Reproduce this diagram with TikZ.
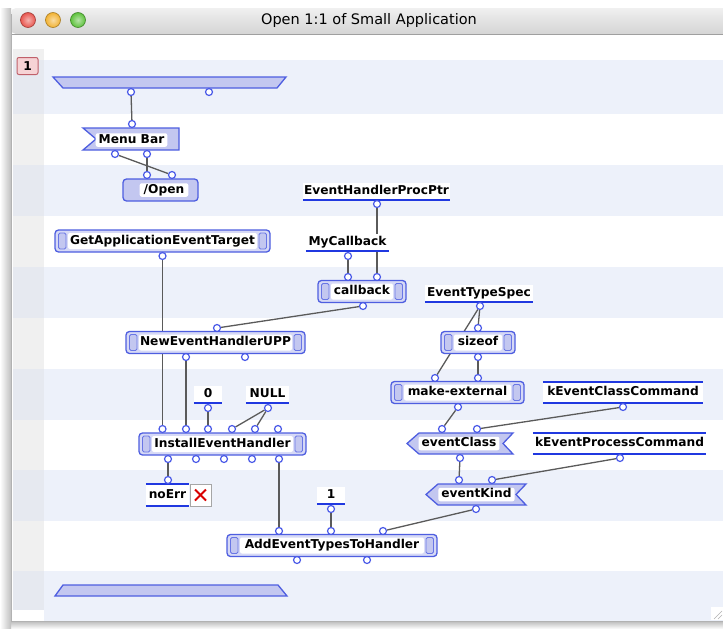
\documentclass[tikz,border=0pt]{standalone}
\usepackage{fontspec}
\setmainfont{DejaVu Sans}
\usetikzlibrary{calc}
\pgfdeclarelayer{bgl}
\pgfdeclarelayer{wirel}
\pgfsetlayers{bgl,wirel,main}
\definecolor{band}{HTML}{EDF1FA}
\definecolor{gutter}{HTML}{F0F0F0}
\definecolor{gutterband}{HTML}{E6E9F0}
\definecolor{fnblue}{HTML}{4E5EE0}
\definecolor{fnfill}{HTML}{D6D9F6}
\definecolor{panel}{HTML}{C3C7F0}
\definecolor{cblue}{HTML}{2038E0}
\definecolor{wire}{HTML}{5A5A5A}
\definecolor{portblue}{HTML}{4A5AE8}
\definecolor{pinkfill}{HTML}{F6D3D5}
\definecolor{pinkdraw}{HTML}{C0606A}
\definecolor{tlred}{HTML}{E8554E}
\definecolor{tlyel}{HTML}{F2B233}
\definecolor{tlgrn}{HTML}{5DC23C}
\newcommand{\prt}[3]{\node[port] (#1) at (#2,#3) {};}
\newcommand{\cnst}[5]{\node[cst, anchor=south, minimum width=#4] (#1) at (#2,#3) {#5};
  \draw[cline] (#1.south west) -- (#1.south east);}
\newcommand{\cnstb}[5]{\node[cst, minimum height=21pt, minimum width=#4] (#1) at (#2,#3) {#5};
  \draw[cline] (#1.south west) -- (#1.south east);
  \draw[cline] (#1.north west) -- (#1.north east);}
\begin{document}
\begin{tikzpicture}[x=1pt,y=-1pt,
  lbl/.style={font=\fontsize{12.2}{14}\bfseries\selectfont},
  funcbox/.style={draw=fnblue, line width=1.3pt, fill=fnfill, rounded corners=3.5pt,
    minimum height=22pt, inner sep=0pt, lbl, text height=9pt, text depth=2.5pt,
    path picture={
      \fill[white, rounded corners=2pt] ([shift={(13pt,-3pt)}]path picture bounding box.north west) rectangle ([shift={(-13pt,3pt)}]path picture bounding box.south east);
      \draw[fill=panel, draw=fnblue!85, line width=0.9pt, rounded corners=1.5pt] ([shift={(3.5pt,-3pt)}]path picture bounding box.north west) rectangle ([shift={(11pt,3pt)}]path picture bounding box.south west);
      \draw[fill=panel, draw=fnblue!85, line width=0.9pt, rounded corners=1.5pt] ([shift={(-3.5pt,-3pt)}]path picture bounding box.north east) rectangle ([shift={(-11pt,3pt)}]path picture bounding box.south east);
    }},
  flag/.style={draw=fnblue, fill=panel, line width=1.3pt, line join=miter},
  flabel/.style={fill=white, rounded corners=2pt, lbl, inner xsep=3pt, inner ysep=1pt, text height=9pt, text depth=2.5pt},
  trap/.style={draw=fnblue, fill=panel, line width=1.3pt},
  cst/.style={fill=white, lbl, inner xsep=0pt, inner ysep=0pt, text height=9.5pt, text depth=3pt, minimum height=17pt},
  cline/.style={draw=cblue, line width=2pt},
  port/.style={circle, draw=portblue, fill=white, line width=1.2pt, inner sep=0pt, minimum size=7pt},
  wirestyle/.style={draw=wire, line width=1.3pt},
  light/.style={circle, minimum size=15pt, inner sep=0pt, line width=0.6pt}
]
\useasboundingbox (0,0) rectangle (723,629);
\begin{pgfonlayer}{bgl}
  \fill[white] (0,0) rectangle (723,629);
  % shadows
  \shade[top color=gray!60, bottom color=white] (0,620) rectangle (723,629);
  \shade[left color=white, right color=gray!50] (0,8) rectangle (11,629);
  % content
  \fill[white] (11,34) rectangle (723,621);
  % bands
  \foreach \a/\b in {60/114,165/216,267/318,369/420,470/521,571/621}{
    \fill[band] (44,\a) rectangle (723,\b);
  }
  % gutter
  \fill[gutter] (13,49) rectangle (44,610);
  \foreach \a/\b in {60/114,165/216,267/318,369/420,470/521,571/610}{
    \fill[gutterband] (13,\a) rectangle (44,\b);
  }
  % title bar
  \shade[top color=gray!12, bottom color=gray!33, rounded corners=5pt] (11,8) rectangle (730,34);
  \draw[gray!75, line width=0.8pt] (11,34) -- (723,34);
  \draw[gray!60, line width=0.8pt] (11,14) -- (11,621) -- (723,621);
  % resize grip
  \fill[white] (711,607) rectangle (723,620);
  \draw[gray!60] (714,619) -- (722,611) (718,619) -- (722,615);
\end{pgfonlayer}

% title and window buttons
\node[light, shading=radial, inner color=tlred!45!white, outer color=tlred, draw=tlred!70!black] (closeb) at (28,20) {};
\node[light, shading=radial, inner color=tlyel!45!white, outer color=tlyel, draw=tlyel!70!black] (minb) at (53,20) {};
\node[light, shading=radial, inner color=tlgrn!45!white, outer color=tlgrn, draw=tlgrn!70!black] (zoomb) at (78,20) {};
\node[font=\fontsize{14.5}{16}\selectfont] (title) at (369,20.5) {Open 1:1 of Small Application};

% row label
\node[draw=pinkdraw, fill=pinkfill, rounded corners=2pt, line width=1pt, minimum width=21pt, minimum height=17pt, inner sep=0pt, lbl] (row1) at (27.5,66) {1};

% trapezoids
\draw[trap] (53,77) -- (286,77) -- (277,88) -- (63,88) -- cycle;
\draw[trap] (63,585) -- (278,585) -- (287,596) -- (55,596) -- cycle;

% Menu Bar flag
\draw[flag] (83,128) -- (179,128) -- (179,150) -- (83,150) -- (96,139) -- cycle;
\node[flabel] (menubar) at (131.5,140) {Menu Bar};

% /Open
\node[draw=fnblue, line width=1.3pt, fill=panel, rounded corners=3.5pt, minimum width=75pt, minimum height=22pt, inner sep=0pt] (openbox) at (160.5,190) {};
\node[flabel, inner xsep=4pt] (open) at (164,190) {/Open};

% function boxes
\node[funcbox, minimum width=215pt] (gaet) at (162.5,241) {GetApplicationEventTarget};
\node[funcbox, minimum width=88pt] (callback) at (362,291.5) {callback};
\node[funcbox, minimum width=179pt] (nehupp) at (215.5,342.5) {NewEventHandlerUPP};
\node[funcbox, minimum width=74pt] (sizeof) at (478,342.5) {sizeof};
\node[funcbox, minimum width=133pt] (makeext) at (457.5,392.5) {make-external};
\node[funcbox, minimum width=167pt] (ieh) at (222.5,444) {InstallEventHandler};
\node[funcbox, minimum width=210pt] (aeth) at (332,545.5) {AddEventTypesToHandler};

% eventClass / eventKind flags
\draw[flag] (407,443.5) -- (419,433) -- (513,433) -- (503,443.5) -- (513,454) -- (419,454) -- cycle;
\node[flabel] (eventclass) at (459,443.5) {eventClass};
\draw[flag] (426,494.5) -- (438,484) -- (526,484) -- (516,494.5) -- (526,505) -- (438,505) -- cycle;
\node[flabel] (eventkind) at (476.5,494.5) {eventKind};

% constants
\cnst{ehpp}{376.5}{200}{147pt}{EventHandlerProcPtr}
\cnst{mycb}{347.5}{251}{83pt}{MyCallback}
\cnst{ets}{479}{302}{108pt}{EventTypeSpec}
\cnst{zero}{208}{403}{28pt}{0}
\cnst{null}{267.5}{403}{43pt}{NULL}
\cnst{one}{331}{504}{28pt}{1}
\cnstb{kecc}{623}{392.5}{160pt}{kEventClassCommand}
\cnstb{kepc}{619.5}{443.5}{173pt}{kEventProcessCommand}
\cnstb{noerr}{167.5}{495}{43pt}{noErr}
\node[draw=gray!70, fill=white, line width=1pt, minimum width=21pt, minimum height=22pt, inner sep=0pt,
  path picture={\draw[red!85!black, line width=2pt] ([shift={(5pt,-5.5pt)}]path picture bounding box.north west) -- ([shift={(-5pt,5.5pt)}]path picture bounding box.south east);
  \draw[red!85!black, line width=2pt] ([shift={(5pt,5.5pt)}]path picture bounding box.south west) -- ([shift={(-5pt,-5.5pt)}]path picture bounding box.north east);}] (errx) at (200.5,495) {};

% ports
\prt{tb1}{131}{92}\prt{tb2}{209}{92}
\prt{mbi}{132}{124}\prt{mbo1}{115}{154}\prt{mbo2}{147}{154}
\prt{opi1}{147}{175}\prt{opi2}{172}{175}
\prt{ehppo}{377}{204}
\prt{mcbo}{348}{256}
\prt{cbi1}{348}{277}\prt{cbi2}{377}{277}\prt{cbo}{363}{306}
\prt{etso}{480}{306}
\prt{gaeto}{162.5}{256}
\prt{nei}{217}{328}\prt{neo1}{186}{357}\prt{neo2}{245}{357}
\prt{szi}{478}{328}\prt{szo}{478}{357}
\prt{mei1}{435}{378}\prt{mei2}{478}{378}\prt{meo}{458}{407}
\prt{kecco}{623}{407}
\prt{zeroo}{208}{408}\prt{nullo}{268}{408}
\prt{iehi1}{162.5}{429}\prt{iehi2}{186}{429}\prt{iehi3}{208}{429}\prt{iehi4}{232}{429}\prt{iehi5}{255}{429}\prt{iehi6}{278}{429}
\prt{ieho1}{168}{459}\prt{ieho2}{196}{459}\prt{ieho3}{224}{459}\prt{ieho4}{252}{459}\prt{ieho5}{279}{459}
\prt{eci1}{442}{429}\prt{eci2}{477}{429}\prt{eco}{460}{458}
\prt{kepco}{620}{458}
\prt{eki1}{459}{480}\prt{eki2}{492}{480}\prt{eko}{476}{509}
\prt{noerri}{168}{480}
\prt{oneo}{331}{509}
\prt{aei1}{279}{531}\prt{aei2}{331}{531}\prt{aei3}{383}{531}\prt{aeo1}{297}{560}\prt{aeo2}{367}{560}

% wires
\begin{pgfonlayer}{wirel}
\draw[wirestyle] (tb1) -- (mbi);
\draw[wirestyle] (mbo2) -- (opi1);
\draw[wirestyle] (mbo1) -- (opi2);
\draw[wirestyle] (ehppo) -- (cbi2);
\draw[wirestyle] (mcbo) -- (cbi1);
\draw[wirestyle] (cbo) -- (nei);
\draw[wirestyle] (gaeto) -- (iehi1);
\draw[wirestyle] (neo1) -- (iehi2);
\draw[wirestyle] (zeroo) -- (iehi3);
\draw[wirestyle] (nullo) -- (iehi4);
\draw[wirestyle] (nullo) -- (iehi5);
\draw[wirestyle] (etso) -- (szi);
\draw[wirestyle] (etso) -- (mei1);
\draw[wirestyle] (szo) -- (mei2);
\draw[wirestyle] (meo) -- (eci1);
\draw[wirestyle] (kecco) -- (eci2);
\draw[wirestyle] (eco) -- (eki1);
\draw[wirestyle] (kepco) -- (eki2);
\draw[wirestyle] (ieho1) -- (noerri);
\draw[wirestyle] (ieho5) -- (aei1);
\draw[wirestyle] (oneo) -- (aei2);
\draw[wirestyle] (eko) -- (aei3);
\end{pgfonlayer}
\end{tikzpicture}
\end{document}
